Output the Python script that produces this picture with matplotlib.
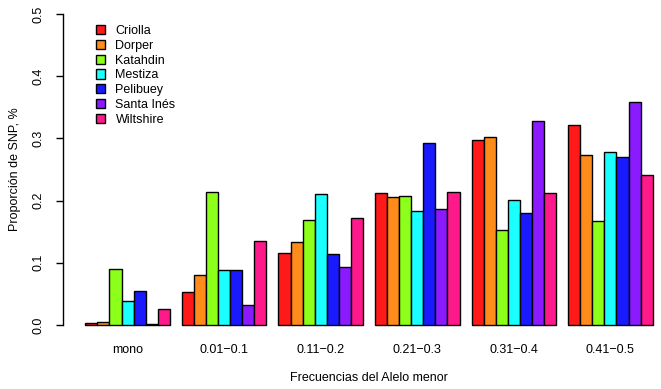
import numpy as np
import matplotlib
matplotlib.use("Agg")
import matplotlib.pyplot as plt

plt.rcParams['font.family'] = ['Liberation Sans', 'DejaVu Sans']

# datos
grupos = ["mono", "0.01\u22120.1", "0.11\u22120.2", "0.21\u22120.3", "0.31\u22120.4", "0.41\u22120.5"]
razas = ["Criolla", "Dorper", "Katahdin", "Mestiza", "Pelibuey", "Santa Inés", "Wiltshire"]
colores = ["#FF1A1A", "#FF8C1A", "#8CFF1A", "#1AFFFF", "#1A1AFF", "#8C1AFF", "#FF1A8C"]

criolla = [0.003, 0.0525, 0.115, 0.212, 0.297, 0.321]
dorper = [0.005, 0.080, 0.133, 0.205, 0.303, 0.273]
katahdin = [0.0895, 0.214, 0.169, 0.207, 0.152, 0.167]
mestiza = [0.038, 0.088, 0.211, 0.183, 0.2005, 0.278]
pelibuey = [0.054, 0.088, 0.114, 0.292, 0.180, 0.270]
santa_ines = [0.001, 0.032, 0.093, 0.186, 0.3275, 0.358]
wiltshire = [0.025, 0.1345, 0.1715, 0.214, 0.212, 0.241]

valores = [criolla, dorper, katahdin, mestiza, pelibuey, santa_ines, wiltshire]

W, H = 661, 389
fig = plt.figure(figsize=(W / 100, H / 100), dpi=100)
# region del grafico en pixeles (estilo barplot de R)
top_px, bot_px, left_px = 1.6, 337.4, 63
ax = fig.add_axes([left_px / W, (H - bot_px) / H, (W - left_px) / W, (bot_px - top_px) / H])

n = len(razas)
paso = n + 1
for j, (raza, col, vals) in enumerate(zip(razas, colores, valores)):
    x = np.arange(len(grupos)) * paso + 1 + j + 0.5
    ax.bar(x, vals, width=1.0, color=col, edgecolor="black", linewidth=1.0, label=raza)

ax.set_xlim(-0.85, 48.69)
ax.set_ylim(-0.02, 0.52)

for s in ["top", "right", "bottom"]:
    ax.spines[s].set_visible(False)
ax.spines["left"].set_bounds(0, 0.5)
ax.spines["left"].set_linewidth(1.0)

yt = np.arange(0, 0.51, 0.1)
ax.set_yticks(yt)
ax.set_yticklabels([f"{v:.1f}" for v in yt], rotation=90, va="center", fontsize=9)
ax.tick_params(axis="y", length=5, width=1.0, pad=8)

centros = np.arange(len(grupos)) * paso + 1 + n / 2
ax.set_xticks(centros)
ax.set_xticklabels(grupos, fontsize=9)
ax.tick_params(axis="x", length=0, pad=5)

fig.text(369 / W, 1 - 378 / H, "Frecuencias del Alelo menor", ha="center", va="center", fontsize=9)
fig.text(15 / W, 1 - 169.5 / H, "Proporción de SNP, %", ha="center", va="center",
         rotation=90, fontsize=9)

ax.legend(loc="upper left", bbox_to_anchor=(0.047, 0.945), frameon=False, fontsize=9,
          handlelength=0.75, handleheight=0.75, handletextpad=0.8, labelspacing=0.22,
          borderaxespad=0)

fig.savefig("out.png", dpi=100)
